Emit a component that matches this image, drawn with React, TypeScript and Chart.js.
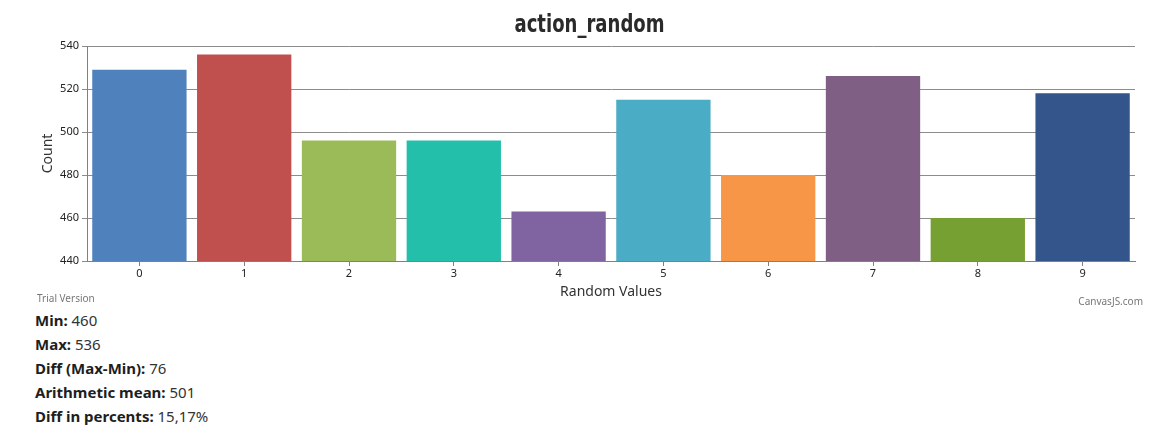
import React, { useEffect, useRef } from "react";
import { Chart, registerables } from "chart.js";

Chart.register(...registerables);

const categories = ["0", "1", "2", "3", "4", "5", "6", "7", "8", "9"];
const counts = [529, 536, 496, 496, 463, 515, 480, 526, 460, 518];
const barColors = [
  "#4F81BC", "#C0504E", "#9BBB58", "#23BFAA", "#8064A1",
  "#4AACC5", "#F79647", "#7F6084", "#77A033", "#33558B",
];
const yTicks = [440, 460, 480, 500, 520, 540];
const titleText = "action_random";
const xTitle = "Random Values";
const yTitle = "Count";
const statLabels = ["Min:", "Max:", "Diff (Max-Min):", "Arithmetic mean:", "Diff in percents:"];
const statValues = ["460", "536", "76", "501", "15,17%"];

const UI_FONT = "'Noto Sans', 'Open Sans', sans-serif";

const textsPlugin = {
  id: "extraTexts",
  afterDraw(chart: any) {
    const ctx = chart.ctx;
    ctx.save();
    // condensed heavy title
    ctx.font = "bold 24px 'DejaVu Sans', sans-serif";
    ctx.fillStyle = "#2a2a2a";
    ctx.textBaseline = "alphabetic";
    ctx.textAlign = "center";
    const w = ctx.measureText(titleText).width;
    const sx = 150 / w;
    const cx = chart.width / 2 + 6;
    ctx.translate(cx, 0);
    ctx.scale(sx, 1);
    ctx.fillText(titleText, 0, 24);
    ctx.restore();

    ctx.save();
    ctx.font = "10px " + UI_FONT;
    ctx.fillStyle = "#777";
    ctx.textBaseline = "middle";
    ctx.textAlign = "left";
    ctx.fillText("Trial Version", 29, 291);
    ctx.textAlign = "right";
    ctx.fillText("CanvasJS.com", 1135, 294);
    ctx.restore();
  },
};

export default function App() {
  const ref = useRef<HTMLCanvasElement | null>(null);

  useEffect(() => {
    if (!ref.current) return;
    const chart = new Chart(ref.current, {
      type: "bar",
      data: {
        labels: categories,
        datasets: [
          {
            data: counts,
            backgroundColor: barColors,
            borderColor: barColors,
            borderWidth: 0,
            barPercentage: 0.9,
            categoryPercentage: 1,
          },
        ],
      },
      plugins: [textsPlugin],
      options: {
        animation: false,
        responsive: true,
        maintainAspectRatio: false,
        layout: { padding: { left: 0, right: 24, top: 38, bottom: 0 } },
        plugins: {
          legend: { display: false },
          tooltip: { enabled: false },
          title: { display: false },
        },
        scales: {
          x: {
            grid: {
              display: true,
              drawOnChartArea: false,
              drawTicks: true,
              offset: false,
              tickLength: 5,
              color: "#808080",
            },
            border: { display: true, color: "#808080", width: 1 },
            ticks: {
              color: "#222",
              font: { family: UI_FONT, size: 11 },
              padding: 1,
              maxRotation: 0,
            },
            title: {
              display: true,
              text: xTitle,
              color: "#333",
              font: { family: UI_FONT, size: 14 },
              padding: { top: 0, bottom: 8 },
            },
            afterFit(scale: any) {
              scale.height = 47;
            },
          },
          y: {
            min: 440,
            max: 540,
            afterBuildTicks(scale: any) {
              scale.ticks = yTicks.map((v) => ({ value: v }));
            },
            grid: {
              color: "#8c8c8c",
              lineWidth: 1,
              tickLength: 5,
              drawTicks: true,
            },
            border: { display: true, color: "#808080", width: 1 },
            ticks: {
              color: "#222",
              font: { family: UI_FONT, size: 11 },
              padding: 3,
            },
            title: {
              display: true,
              text: yTitle,
              color: "#333",
              font: { family: UI_FONT, size: 14 },
              padding: { top: 32, bottom: 0 },
            },
            afterFit(scale: any) {
              scale.width = 79;
            },
          },
        },
      },
    });
    return () => chart.destroy();
  }, []);

  return (
    <div>
      <div style={{ position: "relative", width: 1151, height: 300 }}>
        <canvas ref={ref} />
      </div>
      <div
        style={{
          paddingLeft: 27,
          fontFamily: UI_FONT,
          fontSize: 15,
          lineHeight: "24px",
          color: "#333",
        }}
      >
        {statLabels.map((l, i) => (
          <div key={l}>
            <span style={{ fontWeight: "bold", color: "#1e1e1e" }}>{l}</span> {statValues[i]}
          </div>
        ))}
      </div>
    </div>
  );
}
